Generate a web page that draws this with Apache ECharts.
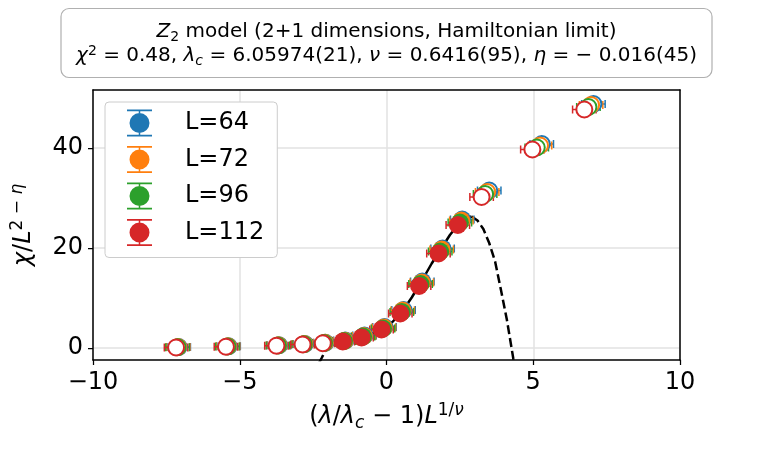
<!DOCTYPE html>
<html>
<head>
<meta charset="utf-8">
<script src="https://cdn.jsdelivr.net/npm/echarts@6/dist/echarts.min.js"></script>
<style>
  html, body { margin: 0; padding: 0; background: #fff; }
  #main { width: 773px; height: 450px; }
</style>
</head>
<body>
<div id="main"></div>
<script>
// system sizes and matplotlib default colours
var sizes = ['L=64', 'L=72', 'L=96', 'L=112'];
var colors = ['#1f77b4', '#ff7f0e', '#2ca02c', '#d62728'];

// collapsed data
var x64 = [-7.08, -5.38, -3.66, -2.78, -2.08, -1.40, -0.75, -0.07, 0.58, 1.22, 1.91, 2.58, 3.50, 5.29, 7.05];
var y64 = [0.2, 0.35, 0.55, 0.8, 1.05, 1.5, 2.5, 4.2, 7.6, 13.3, 19.9, 25.7, 31.5, 40.8, 48.8];
var x72 = [-7.10, -5.40, -3.68, -2.80, -2.10, -1.42, -0.77, -0.09, 0.55, 1.20, 1.88, 2.55, 3.43, 5.23, 6.97];
var y72 = [0.2, 0.35, 0.55, 0.8, 1.05, 1.45, 2.4, 4.1, 7.5, 13.1, 19.7, 25.5, 31.2, 40.5, 48.6];
var x96 = [-7.12, -5.42, -3.70, -2.82, -2.13, -1.45, -0.80, -0.12, 0.52, 1.16, 1.83, 2.50, 3.36, 5.12, 6.88];
var y96 = [0.15, 0.3, 0.5, 0.75, 1.0, 1.4, 2.3, 3.9, 7.2, 12.8, 19.3, 25.1, 30.8, 40.1, 48.2];
var x112 = [-7.17, -5.47, -3.75, -2.86, -2.17, -1.49, -0.85, -0.17, 0.47, 1.11, 1.77, 2.43, 3.24, 4.97, 6.74];
var y112 = [0.1, 0.25, 0.45, 0.7, 0.95, 1.3, 2.1, 3.7, 6.9, 12.4, 18.9, 24.6, 30.2, 39.7, 47.7];
var xErr = [0.4, 0.4, 0.4, 0.4, 0.4, 0.4, 0.4, 0.4, 0.4, 0.4, 0.4, 0.4, 0.4, 0.4, 0.4];

// points inside the fit window are filled, the rest hollow
var fitWindow = [-1.85, 2.9];

// fitted scaling function
var fitX = [-2.3, -2.2, -2.1, -2.0, -1.85, -1.7, -1.5, -1.2, -0.85, -0.5, -0.17, 0.2, 0.5, 0.86, 1.2, 1.54, 1.9, 2.16, 2.5, 2.75, 2.9, 3.1, 3.3, 3.5, 3.7, 3.9, 4.1, 4.32, 4.37];
var fitY = [-3.0, -1.9, -0.7, 0.0, 0.6, 0.95, 1.25, 1.6, 2.15, 2.9, 3.8, 5.2, 7.0, 10.1, 13.4, 16.9, 20.2, 22.6, 25.1, 26.0, 26.3, 25.5, 23.8, 21.0, 17.3, 11.6, 5.7, -2.1, -3.5];

var xTicks = [-10, -5, 0, 5, 10];
var yTicks = [0, 20, 40];
var xRange = [-10, 10];
var yRange = [-2.4, 51.6];

var font = "'DejaVu Sans', sans-serif";
var seriesX = [x64, x72, x96, x112];
var seriesY = [y64, y72, y96, y112];

var legendIcon = 'path://M0 0H100V7H0Z M47 7H53V14H47Z M47 94H53V101H47Z M0 101H100V108H0Z M10 54A40 40 0 1 0 90 54A40 40 0 1 0 10 54Z';

function mathRich(size, small) {
  return {
    it: { fontFamily: font, fontSize: size, fontStyle: 'italic', color: '#000' },
    sub: { fontFamily: font, fontSize: small, lineHeight: small, verticalAlign: 'bottom', color: '#000' },
    subi: { fontFamily: font, fontSize: small, lineHeight: small, verticalAlign: 'bottom', fontStyle: 'italic', color: '#000' },
    sup: { fontFamily: font, fontSize: small, lineHeight: small, verticalAlign: 'top', color: '#000' },
    supi: { fontFamily: font, fontSize: small, lineHeight: small, verticalAlign: 'top', fontStyle: 'italic', color: '#000' }
  };
}

function inWindow(x) {
  return x >= fitWindow[0] && x <= fitWindow[1];
}

var series = [];

// fit curve: solid inside the window, dashed outside
var solid = [], dashed = [];
fitX.forEach(function (x, i) {
  if (x >= fitWindow[0] && x <= fitWindow[1]) solid.push([x, fitY[i]]);
});
fitX.forEach(function (x, i) {
  if (x <= fitWindow[0]) dashed.push([x, fitY[i]]);
});
dashed.push('-');
fitX.forEach(function (x, i) {
  if (x >= fitWindow[1]) dashed.push([x, fitY[i]]);
});
series.push({
  type: 'line', data: solid, showSymbol: false, silent: true, z: 1,
  lineStyle: { color: '#000', width: 2.5 }
});
series.push({
  type: 'line', data: dashed, showSymbol: false, silent: true, z: 1, connectNulls: false,
  lineStyle: { color: '#000', width: 2.5, type: [9, 4] }
});

sizes.forEach(function (name, k) {
  var xs = seriesX[k], ys = seriesY[k], c = colors[k];
  // x error bars
  series.push({
    type: 'custom', silent: true, z: 2,
    data: xs.map(function (x, i) { return [x, ys[i], xErr[i]]; }),
    encode: { x: 0, y: 1 },
    renderItem: function (params, api) {
      var x = api.value(0), y = api.value(1), e = api.value(2);
      var a = api.coord([x - e, y]), b = api.coord([x + e, y]);
      var st = { stroke: c, lineWidth: 1.5 };
      return {
        type: 'group',
        children: [
          { type: 'line', shape: { x1: a[0], y1: a[1], x2: b[0], y2: b[1] }, style: st },
          { type: 'line', shape: { x1: a[0], y1: a[1] - 4, x2: a[0], y2: a[1] + 4 }, style: st },
          { type: 'line', shape: { x1: b[0], y1: b[1] - 4, x2: b[0], y2: b[1] + 4 }, style: st }
        ]
      };
    }
  });
  series.push({
    name: name, type: 'scatter', z: 2, symbol: 'circle',
    itemStyle: { color: c, opacity: 1 },
    data: xs.map(function (x, i) {
      if (inWindow(x)) return { value: [x, ys[i]], symbolSize: 18 };
      return {
        value: [x, ys[i]], symbolSize: 16,
        itemStyle: { color: '#fff', borderColor: c, borderWidth: 2 }
      };
    })
  });
});

var frameAxis = {
  axisLine: { show: true, onZero: false, lineStyle: { color: '#000', width: 1.5 } },
  axisTick: { show: false }, axisLabel: { show: false }, splitLine: { show: false }
};

var chart = echarts.init(document.getElementById('main'));
chart.setOption({
  animation: false,
  backgroundColor: '#fff',
  title: {
    text: '{it|Z}{sub|2} model (2+1 dimensions, Hamiltonian limit)\n' +
      '{it|χ}{sup|2} = 0.48, {it|λ}{subi|c} = 6.05974(21), {it|ν} = 0.6416(95), {it|η} = − 0.016(45)',
    left: 'center', top: 8,
    padding: [12, 15, 10, 15],
    borderColor: '#b0b0b0', borderWidth: 1.2, borderRadius: 8, backgroundColor: '#fff',
    textStyle: {
      fontFamily: font, fontSize: 20, fontWeight: 'normal', color: '#000', lineHeight: 24,
      rich: mathRich(20, 14)
    }
  },
  legend: {
    left: 105, top: 102, orient: 'vertical',
    data: sizes.map(function (n) { return { name: n, icon: legendIcon }; }),
    itemWidth: 25, itemHeight: 27, itemGap: 9.5,
    padding: [7.5, 13, 11.5, 22],
    backgroundColor: '#fff', borderColor: '#cccccc', borderWidth: 1, borderRadius: 4,
    textStyle: { fontFamily: font, fontSize: 24, color: '#000', padding: [0, 0, 0, 28] }
  },
  grid: { left: 93, right: 93, top: 90, bottom: 90 },
  xAxis: [{
    type: 'value', min: xRange[0], max: xRange[1], interval: 5,
    name: '({it|λ}/{it|λ}{subi|c} − 1){it|L}{sup|1/}{supi|ν}',
    nameLocation: 'middle', nameGap: 42,
    nameTextStyle: { fontFamily: font, fontSize: 24, color: '#000', lineHeight: 30, rich: mathRich(24, 17) },
    axisLine: { show: true, onZero: false, lineStyle: { color: '#000', width: 1.5 } },
    axisTick: { show: true, inside: false, length: 5, customValues: xTicks, lineStyle: { color: '#000', width: 1.25 } },
    axisLabel: {
      margin: 11, fontFamily: font, fontSize: 24, color: '#000', customValues: xTicks,
      formatter: function (v) { return v < 0 ? '−' + Math.abs(v) : String(v); }
    },
    splitLine: { show: true, lineStyle: { color: '#e2e2e2', width: 1.5 } }
  }, Object.assign({ type: 'value', position: 'top', min: xRange[0], max: xRange[1] }, frameAxis)],
  yAxis: [{
    type: 'value', min: yRange[0], max: yRange[1],
    name: '{it|χ}/{it|L}{sup|2 − }{supi|η}',
    nameLocation: 'middle', nameGap: 54, nameRotate: 90,
    nameTextStyle: { fontFamily: font, fontSize: 24, color: '#000', lineHeight: 30, rich: mathRich(24, 17) },
    axisLine: { show: true, onZero: false, lineStyle: { color: '#000', width: 1.5 } },
    axisTick: { show: true, inside: false, length: 5, customValues: yTicks, lineStyle: { color: '#000', width: 1.25 } },
    axisLabel: { margin: 10, fontFamily: font, fontSize: 24, color: '#000', customValues: yTicks },
    splitLine: { show: true, lineStyle: { color: '#e2e2e2', width: 1.5 } }
  }, Object.assign({ type: 'value', position: 'right', min: yRange[0], max: yRange[1] }, frameAxis)],
  series: series
});
</script>
</body>
</html>
